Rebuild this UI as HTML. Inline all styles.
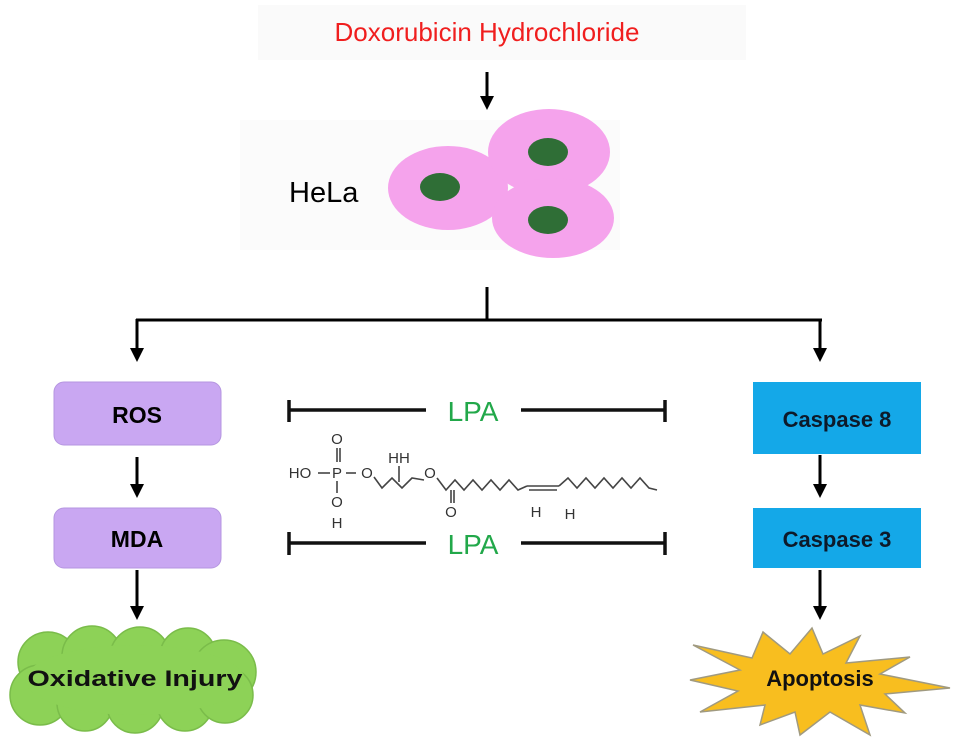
<!DOCTYPE html>
<html><head><meta charset="utf-8"><style>
html,body{margin:0;padding:0;background:#fff}
svg{display:block}
text{font-family:"Liberation Sans",Arial,sans-serif}
</style></head><body>
<svg width="969" height="747" viewBox="0 0 969 747" xmlns="http://www.w3.org/2000/svg">
<defs>
<marker id="ah" markerWidth="14" markerHeight="14" refX="4" refY="7" orient="auto" markerUnits="userSpaceOnUse">
<path d="M0,0 L14,7 L0,14 Z" fill="#000"/>
</marker>
</defs>
<rect x="258" y="5" width="488" height="55" fill="#fafafa"/>
<text x="487" y="41" font-size="26" fill="#f01e1e" text-anchor="middle">Doxorubicin Hydrochloride</text>
<line x1="487" y1="72" x2="487" y2="100" stroke="#000" stroke-width="3" marker-end="url(#ah)"/>
<rect x="240" y="120" width="380" height="130" fill="#fbfbfb"/>
<text x="289" y="202" font-size="29" fill="#000">HeLa</text>
<ellipse cx="448" cy="188" rx="60" ry="42" fill="#f5a3ec"/>
<ellipse cx="440" cy="187" rx="20" ry="14" fill="#2f6e36"/>
<ellipse cx="549" cy="152" rx="61" ry="43" fill="#f5a3ec"/>
<ellipse cx="548" cy="152" rx="20" ry="14" fill="#2f6e36"/>
<ellipse cx="553" cy="218" rx="61" ry="40" fill="#f5a3ec"/>
<ellipse cx="548" cy="220" rx="20" ry="14" fill="#2f6e36"/>
<line x1="487" y1="287" x2="487" y2="320" stroke="#000" stroke-width="3"/>
<line x1="136" y1="320" x2="822" y2="320" stroke="#000" stroke-width="3"/>
<line x1="137" y1="319" x2="137" y2="352" stroke="#000" stroke-width="3" marker-end="url(#ah)"/>
<line x1="820" y1="319" x2="820" y2="352" stroke="#000" stroke-width="3" marker-end="url(#ah)"/>
<rect x="54" y="382" width="167" height="63" rx="10" fill="#c9a7f2" stroke="#b596e0"/>
<text x="137" y="423" font-size="23" font-weight="bold" text-anchor="middle">ROS</text>
<rect x="54" y="508" width="167" height="60" rx="10" fill="#c9a7f2" stroke="#b596e0"/>
<text x="137" y="547" font-size="23" font-weight="bold" text-anchor="middle">MDA</text>
<line x1="137" y1="457" x2="137" y2="488" stroke="#000" stroke-width="3" marker-end="url(#ah)"/>
<line x1="137" y1="570" x2="137" y2="610" stroke="#000" stroke-width="3" marker-end="url(#ah)"/>
<rect x="753" y="382" width="168" height="72" fill="#14a8e8"/>
<text x="837" y="427" font-size="22" font-weight="bold" text-anchor="middle" fill="#0d1a2a">Caspase 8</text>
<rect x="753" y="508" width="168" height="60" fill="#14a8e8"/>
<text x="837" y="547" font-size="22" font-weight="bold" text-anchor="middle" fill="#0d1a2a">Caspase 3</text>
<line x1="820" y1="455" x2="820" y2="488" stroke="#000" stroke-width="3" marker-end="url(#ah)"/>
<line x1="820" y1="570" x2="820" y2="610" stroke="#000" stroke-width="3" marker-end="url(#ah)"/>
<g stroke="#111" stroke-width="3.5">
<line x1="289" y1="410" x2="426" y2="410"/><line x1="289" y1="400" x2="289" y2="422"/>
<line x1="521" y1="410" x2="665" y2="410"/><line x1="665" y1="400" x2="665" y2="422"/>
<line x1="289" y1="543" x2="426" y2="543"/><line x1="289" y1="532" x2="289" y2="555"/>
<line x1="521" y1="543" x2="665" y2="543"/><line x1="665" y1="532" x2="665" y2="555"/>
</g>
<text x="473" y="421" font-size="28" fill="#22a84a" text-anchor="middle">LPA</text>
<text x="473" y="554" font-size="28" fill="#22a84a" text-anchor="middle">LPA</text>
<g font-size="15" fill="#333" text-anchor="middle">
<text x="300" y="478">HO</text>
<text x="337" y="444">O</text>
<text x="337" y="478">P</text>
<text x="337" y="507">O</text>
<text x="337" y="528">H</text>
<text x="367" y="478">O</text>
<text x="399" y="463">HH</text>
<text x="430" y="478">O</text>
<text x="451" y="517">O</text>
<text x="536" y="517">H</text>
<text x="570" y="519">H</text>
</g>
<g stroke="#444" stroke-width="1.6" fill="none">
<line x1="337" y1="448" x2="337" y2="462"/><line x1="340" y1="448" x2="340" y2="462"/>
<line x1="337" y1="481" x2="337" y2="493"/>
<line x1="318" y1="473" x2="330" y2="473"/><line x1="346" y1="473" x2="356" y2="473"/>
<polyline points="374,477 382,488 392,478 402,488 412,478 424,480"/>
<line x1="399" y1="466" x2="399" y2="482"/>
<polyline points="437,478 446,490 455,480 464,490 473,480 482,490 491,480 500,490 509,480 518,490 527,486"/>
<line x1="451" y1="490" x2="451" y2="503"/><line x1="454" y1="490" x2="454" y2="503"/>
<line x1="527" y1="486" x2="559" y2="486"/><line x1="529" y1="490" x2="557" y2="490"/>
<polyline points="559,486 568,478 577,488 586,478 595,488 604,478 613,488 622,478 631,488 640,478 649,488 657,490"/>
</g>
<g fill="#8dd257" stroke="#7abc4a" stroke-width="1.5">
<circle cx="48" cy="662" r="30"/><circle cx="92" cy="656" r="30"/><circle cx="140" cy="657" r="30"/><circle cx="188" cy="656" r="28"/><circle cx="224" cy="672" r="32"/>
<circle cx="40" cy="695" r="30"/><circle cx="85" cy="703" r="28"/><circle cx="135" cy="705" r="28"/><circle cx="185" cy="703" r="28"/><circle cx="225" cy="695" r="28"/>
<ellipse cx="135" cy="680" rx="110" ry="35" stroke="none"/>
</g>
<text x="135" y="686" font-size="22" font-weight="bold" text-anchor="middle" fill="#111" textLength="215" lengthAdjust="spacingAndGlyphs">Oxidative Injury</text>
<polygon fill="#f8be1f" stroke="#a09a80" stroke-width="1.5" points="693,645 752,658 763,632 790,654 812,628 823,654 860,636 846,663 910,657 880,674 950,688 885,694 905,713 860,705 870,735 830,712 800,735 795,712 760,725 765,705 700,712 738,691 690,680 740,670"/>
<text x="820" y="686" font-size="22" font-weight="bold" text-anchor="middle" fill="#111">Apoptosis</text>
</svg>
</body></html>
